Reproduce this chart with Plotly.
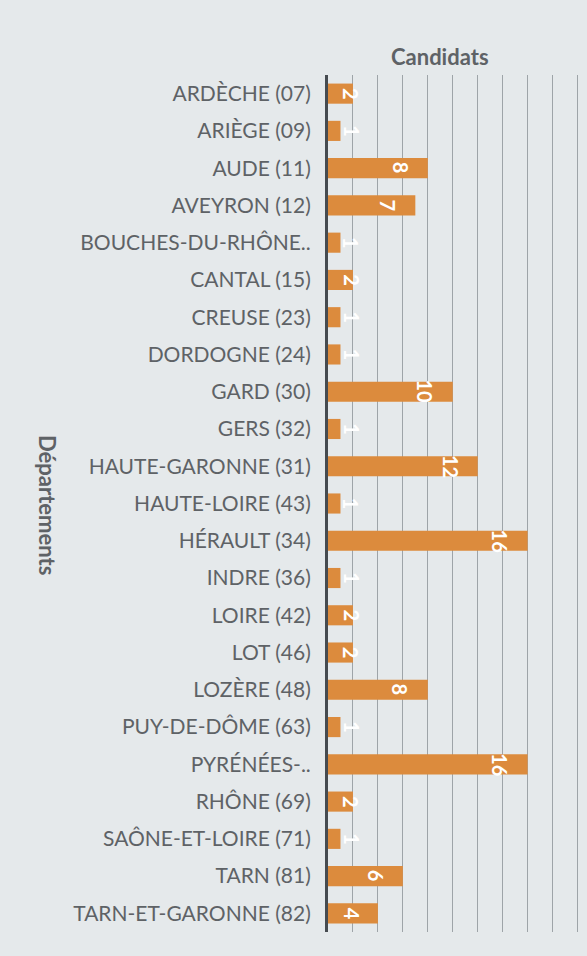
import plotly.graph_objects as go

departements = [
    "ARDÈCHE (07)", "ARIÈGE (09)", "AUDE (11)", "AVEYRON (12)",
    "BOUCHES-DU-RHÔNE..", "CANTAL (15)", "CREUSE (23)", "DORDOGNE (24)",
    "GARD (30)", "GERS (32)", "HAUTE-GARONNE (31)", "HAUTE-LOIRE (43)",
    "HÉRAULT (34)", "INDRE (36)", "LOIRE (42)", "LOT (46)", "LOZÈRE (48)",
    "PUY-DE-DÔME (63)", "PYRÉNÉES-..", "RHÔNE (69)", "SAÔNE-ET-LOIRE (71)",
    "TARN (81)", "TARN-ET-GARONNE (82)",
]
candidats = [2, 1, 8, 7, 1, 2, 1, 1, 10, 1, 12, 1, 16, 1, 2, 2, 8, 1, 16, 2, 1, 6, 4]

title_text = "Candidats"
axis_title = "Départements"

W, H = 587, 956
L, R, T, B = 328, 7, 75, 24
pw = W - L - R
ph = H - T - B

BAR = "#dc8b3d"
TXT = "#5e6266"
BG = "#e5e9eb"
FONT = "Lato, 'Open Sans', sans-serif"

fig = go.Figure()
fig.add_trace(go.Bar(
    y=departements,
    x=candidats,
    orientation="h",
    marker=dict(color=BAR, line=dict(width=0)),
    hoverinfo="x+y",
))

# value labels, rotated, near the end of each bar
for d, v in zip(departements, candidats):
    fig.add_annotation(
        x=max(v - 2.2, 1.9), y=d, xref="x", yref="y",
        text=str(v), showarrow=False, textangle=90,
        font=dict(family=FONT, size=20, color="white", weight="bold"),
        xanchor="center", yanchor="middle",
    )

# chart title
fig.add_annotation(
    x=(440 - L) / pw, y=1 + (T - 57) / ph, xref="paper", yref="paper",
    text=title_text, showarrow=False,
    font=dict(family=FONT, size=22, color=TXT, weight="bold"),
    xanchor="center", yanchor="middle",
)
# y axis title
fig.add_annotation(
    x=(47 - L) / pw, y=0.5 - (505 - (T + ph / 2)) / ph, xref="paper", yref="paper",
    text=axis_title, showarrow=False, textangle=90,
    font=dict(family=FONT, size=22, color=TXT, weight="bold"),
    xanchor="center", yanchor="middle",
)

fig.update_layout(
    width=W, height=H,
    margin=dict(l=L, r=R, t=T, b=B, pad=0),
    paper_bgcolor=BG, plot_bgcolor=BG,
    bargap=0.46,
    showlegend=False,
    font=dict(family=FONT, color=TXT),
    xaxis=dict(
        range=[0, 20.2], dtick=2, tick0=0,
        showticklabels=False, ticks="",
        showgrid=True, gridcolor="#9ea4a8", gridwidth=1,
        zeroline=False, showline=False, fixedrange=True,
    ),
    yaxis=dict(
        autorange="reversed",
        showline=True, linecolor="#464b50", linewidth=3,
        ticks="", ticklabelstandoff=10,
        tickfont=dict(family=FONT, size=21, color=TXT),
        showgrid=False, zeroline=False, fixedrange=True,
    ),
)

fig.write_html(
    "out.html",
    config={"displayModeBar": False},
    post_script="document.body.style.margin='0px';document.body.style.background='%s';" % BG,
)
